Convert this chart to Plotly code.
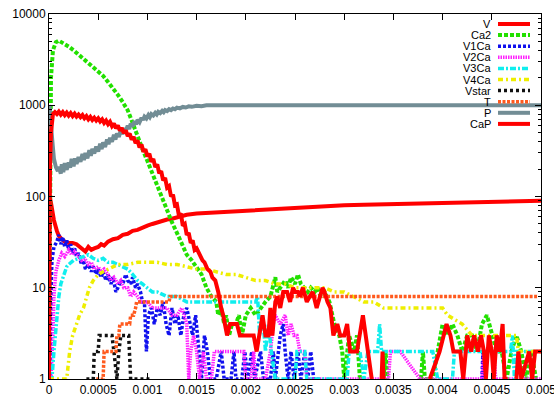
import plotly.graph_objects as go

# ---- simulation output: (time [s], molecule count) per species ----
V_DATA = [(0, 100), (0.00001, 96), (0.00002, 85), (0.00003, 72), (0.00005, 55), (0.00008, 42),
          (0.0001, 37), (0.00013, 34), (0.00016, 32), (0.0002, 31), (0.00024, 31), (0.00028, 30),
          (0.00031, 28), (0.00034, 27), (0.00037, 25), (0.0004, 28), (0.00043, 26), (0.00046, 27),
          (0.0005, 28), (0.00053, 30), (0.00056, 29), (0.0006, 32), (0.00065, 34), (0.0007, 35),
          (0.00075, 38), (0.0008, 39), (0.00085, 42), (0.0009, 43), (0.00095, 46), (0.001, 48),
          (0.00105, 50), (0.0011, 52), (0.00115, 54), (0.0012, 56), (0.00125, 57), (0.0013, 59),
          (0.00135, 61), (0.0014, 63), (0.0015, 65), (0.0016, 66), (0.0017, 67), (0.0018, 68),
          (0.0019, 69), (0.002, 70), (0.0022, 72), (0.0024, 74), (0.0026, 76), (0.0028, 78),
          (0.003, 80), (0.0032, 81), (0.0034, 82), (0.0036, 83), (0.0038, 84), (0.004, 85),
          (0.0042, 86), (0.0044, 87), (0.0046, 88), (0.0048, 89), (0.005, 90)]

CA2_DATA = [(0, 1), (0.00001, 400), (0.00002, 2000), (0.00004, 4000), (0.00007, 4900), (0.0001, 5100),
            (0.00015, 4800), (0.0002, 4400), (0.00025, 4000), (0.0003, 3600), (0.00035, 3250),
            (0.0004, 2950), (0.00045, 2650), (0.0005, 2400), (0.00055, 2100), (0.0006, 1800),
            (0.00065, 1550), (0.0007, 1300), (0.00075, 1080), (0.0008, 880), (0.00085, 640),
            (0.0009, 450), (0.00095, 330), (0.001, 245), (0.00105, 180), (0.0011, 128), (0.00115, 95),
            (0.0012, 72), (0.00125, 52), (0.0013, 40), (0.00135, 30), (0.0014, 23), (0.00145, 20),
            (0.0015, 17), (0.00155, 14), (0.0016, 10), (0.00165, 8), (0.0017, 7), (0.00172, 5),
            (0.00175, 6), (0.00178, 4), (0.0018, 5), (0.00183, 3), (0.00186, 4), (0.0019, 4),
            (0.00193, 5), (0.00196, 3), (0.002, 5), (0.00205, 6), (0.0021, 5), (0.00215, 6),
            (0.0022, 7), (0.00225, 8), (0.0023, 13), (0.00232, 9), (0.00235, 10), (0.0024, 12),
            (0.00243, 10), (0.00246, 13), (0.0025, 11), (0.00253, 14), (0.00256, 11), (0.0026, 10),
            (0.00263, 9), (0.00266, 10), (0.0027, 9), (0.00273, 10), (0.00276, 8), (0.0028, 9),
            (0.00285, 7), (0.0029, 4), (0.00295, 3), (0.00298, 2), (0.003, 1), (0.00305, 3),
            (0.0031, 2), (0.00313, 3), (0.00316, 1), (0.0032, None), (0.0034, 1), (0.00342, 2),
            (0.00344, 1), (0.0035, None), (0.00378, 1), (0.0038, 2), (0.00382, 1), (0.0039, 1),
            (0.00395, 2), (0.004, 4), (0.00405, 3), (0.0041, 4), (0.00415, 3), (0.0042, 2),
            (0.00425, 3), (0.0043, 3), (0.00435, 2), (0.0044, 4), (0.00445, 5), (0.0045, 3),
            (0.00455, 2), (0.0046, 2), (0.00465, 1), (0.0047, 2), (0.00475, 3), (0.0048, 2),
            (0.00485, 1), (0.0049, 2), (0.00495, 1)]

V1CA_DATA = [(0, 1), (0.00001, 1), (0.00002, 8), (0.00003, 20), (0.00005, 28), (0.00008, 32),
             (0.0001, 38), (0.00012, 30), (0.00014, 36), (0.00016, 28), (0.00018, 33), (0.0002, 26),
             (0.00022, 30), (0.00024, 24), (0.00026, 27), (0.00028, 22), (0.0003, 24), (0.00033, 18),
             (0.00035, 20), (0.00037, 16), (0.0004, 18), (0.00043, 15), (0.00045, 17), (0.00048, 14),
             (0.0005, 16), (0.00053, 13), (0.00055, 15), (0.00058, 12), (0.0006, 14), (0.00063, 11),
             (0.00065, 13), (0.00068, 9), (0.0007, 10), (0.00073, 12), (0.00075, 11), (0.00078, 14),
             (0.0008, 12), (0.00083, 11), (0.00085, 13), (0.00088, 10), (0.0009, 11), (0.00093, 9),
             (0.00095, 7), (0.00097, 7), (0.00099, 2), (0.00101, 5), (0.00104, 6), (0.00107, 4),
             (0.0011, 6), (0.00113, 5), (0.00116, 7), (0.00119, 4), (0.00122, 3), (0.00125, 6),
             (0.00128, 4), (0.00131, 5), (0.00134, 3), (0.00137, 5), (0.0014, 6), (0.00143, 4),
             (0.00146, 3), (0.00149, 5), (0.00152, 2), (0.00155, 1), (0.00158, 3), (0.00161, 2),
             (0.00164, 1), (0.0017, 1), (0.00175, 2), (0.00178, 1), (0.00185, 1), (0.00188, 2),
             (0.0019, 1), (0.00196, 1), (0.00199, 2), (0.00202, 1), (0.00206, 2), (0.00209, 1),
             (0.00215, 2), (0.00218, 1), (0.00225, 1), (0.00228, 2), (0.0023, 1), (0.00235, 3),
             (0.00238, 4), (0.0024, 2), (0.00243, 1), (0.00246, 2), (0.00249, 1), (0.00253, 2),
             (0.00256, 1), (0.0026, 2), (0.00263, 1), (0.00266, 2), (0.00269, 1), (0.00275, 1),
             (0.0028, None), (0.0044, 1), (0.00441, 2), (0.00443, 1), (0.00446, None)]

V2CA_DATA = [(0, 1), (0.00002, 1), (0.00004, 3), (0.00005, 8), (0.00007, 15), (0.0001, 20),
             (0.00013, 24), (0.00016, 22), (0.0002, 26), (0.00023, 23), (0.00026, 25), (0.0003, 22),
             (0.00033, 20), (0.00036, 21), (0.0004, 18), (0.00043, 19), (0.00046, 16), (0.0005, 17),
             (0.00053, 15), (0.00056, 16), (0.0006, 14), (0.00063, 12), (0.00066, 13), (0.0007, 11),
             (0.00073, 12), (0.00076, 10), (0.0008, 10), (0.00083, 8), (0.00086, 9), (0.0009, 8),
             (0.00093, 7), (0.00096, 7), (0.001, 7), (0.00105, 6), (0.0011, 6), (0.00115, 6),
             (0.0012, 6), (0.00125, 5), (0.0013, 5), (0.00135, 6), (0.0014, 4), (0.00142, 1),
             (0.00144, 2), (0.00147, 3), (0.0015, 2), (0.00153, 1), (0.00157, 2), (0.0016, 1),
             (0.00165, 1), (0.00168, 2), (0.0017, 2), (0.00198, 2), (0.002, 1), (0.00205, 1),
             (0.00208, 2), (0.0021, 1), (0.0022, 1), (0.00225, 2), (0.00228, 4), (0.0023, 5),
             (0.00235, 4), (0.0024, 5), (0.00243, 3), (0.00246, 4), (0.00249, 3), (0.00252, 3),
             (0.00255, 2), (0.0026, 2), (0.00262, 1), (0.00345, 1), (0.00347, 2), (0.00357, 2),
             (0.00377, 1), (0.0044, 1), (0.00442, 2), (0.00452, 2), (0.00454, 1), (0.005, 1)]

V3CA_DATA = [(0, 1), (0.00003, 1), (0.00005, 2), (0.00008, 5), (0.0001, 8), (0.00012, 11),
             (0.00015, 14), (0.00018, 17), (0.0002, 18), (0.00025, 20), (0.0003, 21), (0.00035, 22),
             (0.0004, 23), (0.00045, 21), (0.0005, 20), (0.00055, 21), (0.0006, 19), (0.00065, 19),
             (0.0007, 18), (0.00075, 17), (0.0008, 16), (0.00085, 14), (0.0009, 12), (0.00095, 11),
             (0.001, 10), (0.00105, 9), (0.0011, 9), (0.0012, 8), (0.0013, 8), (0.0014, 7),
             (0.0021, 7), (0.00212, 8), (0.00214, 3), (0.00217, 5), (0.0022, 2), (0.00223, 4),
             (0.00226, 2), (0.0023, 1), (0.0025, 1), (0.00252, 2), (0.0026, 2), (0.00262, 1),
             (0.00303, 1), (0.00305, 2), (0.00316, 2), (0.0032, 1), (0.00324, 2), (0.00334, 2),
             (0.00336, 4), (0.00338, 2), (0.0039, 2), (0.00395, 1), (0.0041, 1), (0.00412, 2),
             (0.00469, 2), (0.00471, 3), (0.00473, 1), (0.00475, 2), (0.005, 2)]

V4CA_DATA = [(0, 1), (0.00018, 1), (0.00021, 2), (0.00024, 3), (0.00028, 4), (0.00031, 5),
             (0.00035, 6), (0.00038, 8), (0.00041, 10), (0.00045, 12), (0.0005, 14), (0.00055, 15),
             (0.0006, 16), (0.00065, 17), (0.0007, 18), (0.0008, 18), (0.0009, 19), (0.001, 19),
             (0.0011, 19), (0.0012, 18), (0.0013, 18), (0.0014, 17), (0.0015, 16), (0.0016, 16),
             (0.0017, 15), (0.0018, 14), (0.0019, 14), (0.002, 13), (0.0021, 12), (0.0022, 12),
             (0.0023, 11), (0.0024, 11), (0.0025, 10), (0.0028, 10), (0.0029, 9), (0.003, 9),
             (0.0031, 8), (0.0032, 7), (0.0033, 7), (0.0034, 6), (0.004, 6), (0.00405, 5),
             (0.0042, 4), (0.0043, 3), (0.00475, 3), (0.00477, 2), (0.005, 2)]

VSTAR_DATA = [(0.00038, 1), (0.00045, 1), (0.00046, 2), (0.0005, 2), (0.00051, 3), (0.00064, 3),
              (0.00066, 2), (0.00069, 1), (0.00071, 2), (0.00073, 3), (0.00081, 3), (0.00083, 1),
              (0.00105, 1)]

T_DATA = [(0.00048, 1), (0.00055, 1), (0.00056, 2), (0.00068, 2), (0.00069, 3), (0.00071, 3),
          (0.00072, 4), (0.00082, 4), (0.00083, 5), (0.00086, 5), (0.00088, 6), (0.00089, 7),
          (0.00122, 7), (0.00123, 8), (0.00496, 8)]

P_DATA = [(0, 1000), (0.00001, 900), (0.00002, 600), (0.00003, 400), (0.00005, 260), (0.00007, 210),
          (0.00009, 190), (0.0001, 212), (0.00012, 178), (0.00013, 226), (0.000145, 185),
          (0.00016, 232), (0.00018, 196), (0.0002, 236), (0.000215, 207), (0.00023, 258),
          (0.00025, 214), (0.000265, 262), (0.00028, 228), (0.0003, 271), (0.00032, 240),
          (0.00034, 292), (0.000355, 251), (0.00037, 300), (0.00039, 262), (0.00041, 321),
          (0.000425, 279), (0.00044, 333), (0.00046, 296), (0.00048, 352), (0.0005, 312),
          (0.00052, 379), (0.000535, 330), (0.00055, 392), (0.00057, 349), (0.00059, 421),
          (0.000605, 374), (0.00062, 440), (0.00064, 398), (0.00066, 474), (0.000675, 421),
          (0.00069, 491), (0.00071, 451), (0.00073, 532), (0.000745, 482), (0.00076, 556),
          (0.00078, 519), (0.0008, 598), (0.000815, 548), (0.00083, 628), (0.00085, 588),
          (0.00087, 668), (0.000885, 617), (0.0009, 692), (0.00092, 652), (0.00094, 728),
          (0.000955, 690), (0.00097, 751), (0.00099, 716), (0.00101, 782), (0.001025, 741),
          (0.00104, 800), (0.00106, 772), (0.00108, 826), (0.001095, 794), (0.00111, 846),
          (0.00113, 821), (0.00115, 868), (0.001165, 839), (0.00118, 885), (0.0012, 862),
          (0.00122, 905), (0.00124, 884), (0.00126, 922), (0.00128, 903), (0.0013, 941),
          (0.00133, 924), (0.00136, 958), (0.00139, 944), (0.00142, 972), (0.00145, 961),
          (0.0015, 988), (0.00155, 978), (0.0016, 1000), (0.0018, 995), (0.002, 1005),
          (0.0022, 998), (0.0024, 1002), (0.0026, 997), (0.0028, 1003), (0.003, 999),
          (0.0032, 1002), (0.0034, 998), (0.0036, 1003), (0.0038, 999), (0.004, 1001),
          (0.0042, 998), (0.0044, 1002), (0.0046, 999), (0.0048, 1001), (0.005, 1000)]

CAP_DATA = [(0, 1), (0.000005, 50), (0.00001, 200), (0.00002, 500), (0.00003, 700), (0.00004, 800),
            (0.00006, 840), (0.00008, 800), (0.0001, 850), (0.00012, 790), (0.00014, 840),
            (0.00016, 780), (0.00018, 830), (0.0002, 770), (0.00022, 820), (0.00024, 760),
            (0.00026, 810), (0.00028, 750), (0.0003, 790), (0.00032, 740), (0.00034, 780),
            (0.00036, 720), (0.00038, 760), (0.0004, 700), (0.00042, 745), (0.00044, 690),
            (0.00046, 730), (0.00048, 680), (0.0005, 720), (0.00052, 665), (0.00054, 700),
            (0.00056, 640), (0.00058, 680), (0.0006, 620), (0.00062, 660), (0.00064, 590),
            (0.00066, 630), (0.00068, 560), (0.0007, 600), (0.00072, 530), (0.00074, 565),
            (0.00076, 495), (0.00078, 530), (0.0008, 460), (0.00082, 490), (0.00084, 420),
            (0.00086, 450), (0.00088, 385), (0.0009, 410), (0.00092, 345), (0.00094, 370),
            (0.00096, 310), (0.00098, 330), (0.001, 275), (0.00102, 295), (0.00104, 240),
            (0.00106, 258), (0.00108, 210), (0.0011, 225), (0.00112, 180), (0.00114, 190),
            (0.00116, 150), (0.00118, 160), (0.0012, 125), (0.00122, 130), (0.00124, 100),
            (0.00126, 105), (0.00128, 80), (0.0013, 82), (0.00132, 62), (0.00134, 65),
            (0.00136, 48), (0.00138, 50), (0.0014, 38), (0.00142, 40), (0.00144, 31),
            (0.00146, 33), (0.00148, 26), (0.0015, 27), (0.00153, 23), (0.00156, 20),
            (0.00158, 19), (0.00161, 16), (0.00164, 15), (0.00166, 13), (0.00169, 12),
            (0.00172, 9), (0.00175, 6), (0.00177, 5), (0.00181, 3), (0.00184, 4), (0.00188, 4),
            (0.00191, 4), (0.00194, 3), (0.00199, 3), (0.00204, 3), (0.00208, 3), (0.00211, 2),
            (0.00214, 3), (0.00217, 5), (0.0022, 3), (0.00223, 3), (0.00225, 6), (0.00227, 3),
            (0.0023, 7), (0.00232, 8), (0.00235, 6), (0.00238, 9), (0.00242, 9), (0.00245, 7),
            (0.00248, 10), (0.0025, 9), (0.00253, 9), (0.00255, 8), (0.00258, 10), (0.00262, 7),
            (0.00265, 8), (0.00268, 9), (0.00272, 6), (0.00275, 8), (0.00278, 10), (0.0028, 9),
            (0.00283, 7), (0.00286, 6), (0.00289, 3), (0.00293, 4), (0.00296, 3), (0.003, 3),
            (0.00303, 4), (0.00306, 2), (0.00313, 2), (0.00319, 5), (0.00324, 2), (0.00328, 1),
            (0.0033, None), (0.00338, 1), (0.00339, 2), (0.0034, 1), (0.0035, None),
            (0.00387, 1), (0.00397, 2), (0.00404, 4), (0.00408, 3), (0.00411, 2), (0.00418, 2),
            (0.00421, 1), (0.00425, 3), (0.00429, 2), (0.00432, 3), (0.00436, 2), (0.00439, 3),
            (0.00442, 2), (0.00444, 1), (0.00447, 3), (0.0045, 2), (0.00452, 1), (0.00455, 3),
            (0.00458, 2), (0.00461, 4), (0.00463, 1), (0.00466, 1), (0.0047, None), (0.00475, 1),
            (0.00477, 2), (0.0048, 1), (0.00488, 2), (0.00491, 1), (0.00494, 2), (0.005, 2)]

SERIES_NAMES = ["V", "Ca2", "V1Ca", "V2Ca", "V3Ca", "V4Ca", "Vstar", "T", "P", "CaP"]
SERIES_DATA = [V_DATA, CA2_DATA, V1CA_DATA, V2CA_DATA, V3CA_DATA, V4CA_DATA,
               VSTAR_DATA, T_DATA, P_DATA, CAP_DATA]

X_TICKS = [0, 0.0005, 0.001, 0.0015, 0.002, 0.0025, 0.003, 0.0035, 0.004, 0.0045, 0.005]
X_LABELS = ["0", "0.0005", "0.001", "0.0015", "0.002", "0.0025", "0.003", "0.0035", "0.004",
            "0.0045", "0.005"]
Y_TICKS = [1, 10, 100, 1000, 10000]
Y_LABELS = ["1", "10", "100", "1000", "10000"]

# ---- line styles (colour, width, dash) ----
STYLES = {
    "V":     ("#ff0000", 4.0, "solid"),
    "Ca2":   ("#22e000", 4.0, "4px,2px"),
    "V1Ca":  ("#1010ee", 3.5, "3px,2px"),
    "V2Ca":  ("#ff20ff", 3.5, "1.5px,1px"),
    "V3Ca":  ("#10eeee", 3.5, "6px,2px,2px,2px"),
    "V4Ca":  ("#eeee00", 3.5, "5px,3px,2px,3px"),
    "Vstar": ("#111111", 3.5, "3px,3px"),
    "T":     ("#ff5a1e", 3.5, "3px,1.5px"),
    "P":     ("#728d95", 4.0, "solid"),
    "CaP":   ("#ff0000", 4.0, "solid"),
}

FONT = "Liberation Sans, Arial, sans-serif"

fig = go.Figure()
for name, data in zip(SERIES_NAMES, SERIES_DATA):
    color, width, dash = STYLES[name]
    fig.add_trace(go.Scatter(
        x=[p[0] for p in data], y=[p[1] for p in data],
        mode="lines", name=name, showlegend=False,
        line=dict(color=color, width=width, dash=dash),
        connectgaps=False,
    ))

# key in the upper right corner: right-aligned label followed by a line sample
L, R, T, B = 49, 13, 14, 18
W, H = 554, 397
pw, ph = W - L - R, H - T - B
annotations, shapes = [], []
for i, name in enumerate(SERIES_NAMES):
    color, width, dash = STYLES[name]
    ypx = 24 + 11.1 * i
    yp = 1 - (ypx - T) / ph
    annotations.append(dict(
        x=(492 - L) / pw, y=yp, xref="paper", yref="paper", text=name, showarrow=False,
        xanchor="right", yanchor="middle", borderpad=0,
        font=dict(family=FONT, size=11, color="black")))
    shapes.append(dict(
        type="line", xref="paper", yref="paper", x0=(498 - L) / pw, x1=(530 - L) / pw,
        y0=yp, y1=yp, line=dict(color=color, width=width, dash=dash)))

minor_vals = [m * 10 ** e for e in range(4) for m in range(2, 10)]

fig.update_layout(
    width=W, height=H,
    margin=dict(l=L, r=R, t=T, b=B, pad=0),
    paper_bgcolor="white", plot_bgcolor="white",
    font=dict(family=FONT, size=12, color="black"),
    annotations=annotations, shapes=shapes,
    xaxis=dict(
        range=[0, 0.005], tickmode="array", tickvals=X_TICKS, ticktext=X_LABELS,
        ticks="inside", ticklen=6, tickwidth=1, tickcolor="black",
        showline=True, linecolor="black", linewidth=1, mirror="allticks",
        showgrid=False, zeroline=False, automargin=False, ticklabeloverflow="allow",
        tickfont=dict(family=FONT, size=12, color="black"),
    ),
    yaxis=dict(
        type="log", range=[0, 4], tickmode="array", tickvals=Y_TICKS, ticktext=Y_LABELS,
        ticks="inside", ticklen=6, tickwidth=1, tickcolor="black",
        minor=dict(tickmode="array", tickvals=minor_vals, ticks="inside", ticklen=3,
                   tickcolor="black", showgrid=False),
        showline=True, linecolor="black", linewidth=1, mirror="allticks",
        showgrid=False, zeroline=False, automargin=False, ticklabeloverflow="allow",
        tickfont=dict(family=FONT, size=12, color="black"),
    ),
)

fig.write_html("out.html")
